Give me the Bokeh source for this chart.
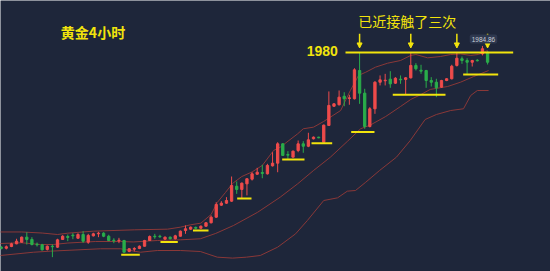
from bokeh.plotting import figure
from bokeh.models import ColumnDataSource, Range1d, Label, Arrow, NormalHead
from bokeh.embed import file_html
from bokeh.resources import INLINE

# ---------------- data ----------------
opens = [1834.1, 1833.2, 1834.5, 1836.5, 1837.7, 1841.5, 1839.8, 1836.2, 1835.8, 1832.3,
         1834.7, 1834.0, 1839.8, 1842.0, 1843.0, 1840.7, 1843.5, 1837.7, 1842.5, 1844.0,
         1844.5, 1842.2, 1839.2, 1838.8, 1839.0, 1830.8, 1832.5, 1833.0, 1834.7, 1839.0,
         1842.2, 1842.2, 1840.0, 1841.5, 1840.3, 1842.2, 1846.5, 1847.5, 1848.8, 1848.2,
         1849.7, 1852.3, 1856.5, 1865.5, 1867.0, 1868.5, 1879.7, 1877.3, 1881.5, 1885.0,
         1888.7, 1890.0, 1889.0, 1895.0, 1897.0, 1911.5, 1903.5, 1901.5, 1906.5, 1911.5,
         1909.7, 1915.3, 1916.5, 1912.7, 1925.3, 1939.7, 1940.8, 1947.2, 1945.5, 1945.3,
         1966.5, 1949.5, 1924.5, 1937.8, 1957.7, 1958.8, 1960.0, 1957.0, 1960.0, 1959.8,
         1961.0, 1970.3, 1966.7, 1966.5, 1959.0, 1957.7, 1954.0, 1959.0, 1960.3, 1970.3,
         1975.3, 1974.0, 1972.7, 1974.2, 1979.0, 1980.2]
highs = [1834.9, 1835.3, 1837.3, 1840.3, 1842.0, 1845.2, 1841.5, 1837.5, 1836.5, 1835.3,
         1836.0, 1840.3, 1843.0, 1843.5, 1844.5, 1844.5, 1846.0, 1844.0, 1844.8, 1845.5,
         1845.2, 1843.3, 1840.7, 1841.0, 1839.5, 1833.2, 1834.0, 1835.3, 1839.5, 1842.8,
         1844.0, 1843.3, 1842.0, 1842.0, 1843.3, 1846.5, 1850.3, 1849.5, 1849.5, 1850.3,
         1852.7, 1857.8, 1867.7, 1868.5, 1871.5, 1887.0, 1883.3, 1882.5, 1885.7, 1890.2,
         1893.5, 1895.8, 1896.5, 1905.2, 1912.7, 1912.0, 1906.0, 1906.5, 1914.0, 1913.5,
         1919.8, 1917.0, 1916.8, 1926.0, 1950.8, 1942.0, 1951.5, 1950.2, 1948.3, 1968.2,
         1980.2, 1952.8, 1939.0, 1958.5, 1962.8, 1964.0, 1966.0, 1961.5, 1962.8, 1961.5,
         1980.2, 1972.0, 1970.8, 1967.0, 1961.5, 1960.3, 1959.5, 1960.7, 1970.8, 1980.2,
         1977.0, 1975.7, 1974.5, 1975.0, 1984.9, 1981.0]
lows = [1832.3, 1832.3, 1834.0, 1836.2, 1837.5, 1836.0, 1835.3, 1834.5, 1831.5, 1831.5,
        1826.5, 1833.5, 1839.5, 1838.5, 1840.0, 1840.3, 1837.3, 1836.5, 1842.0, 1841.5,
        1841.5, 1838.5, 1837.0, 1837.0, 1830.0, 1830.2, 1830.8, 1832.5, 1834.5, 1838.8,
        1840.3, 1841.0, 1839.5, 1839.8, 1839.8, 1842.0, 1844.0, 1847.0, 1847.5, 1847.8,
        1849.5, 1851.8, 1856.0, 1865.0, 1866.5, 1868.0, 1874.0, 1870.7, 1872.8, 1884.0,
        1888.3, 1885.7, 1888.5, 1894.5, 1890.2, 1902.4, 1900.3, 1901.3, 1905.2, 1904.8,
        1909.0, 1914.8, 1915.7, 1912.3, 1924.9, 1939.3, 1940.3, 1939.7, 1940.8, 1944.8,
        1941.5, 1922.8, 1923.8, 1934.0, 1955.3, 1955.3, 1953.5, 1956.5, 1956.5, 1948.5,
        1960.5, 1966.5, 1964.0, 1953.5, 1954.5, 1946.5, 1953.5, 1958.5, 1959.8, 1969.5,
        1971.5, 1964.0, 1969.5, 1973.3, 1977.8, 1971.0]
closes = [1833.0, 1834.3, 1836.5, 1838.5, 1841.5, 1839.8, 1836.0, 1835.8, 1832.0, 1834.7,
          1834.3, 1839.5, 1842.2, 1841.3, 1842.5, 1843.5, 1838.5, 1842.8, 1844.0, 1844.5,
          1842.2, 1839.0, 1838.8, 1839.2, 1830.2, 1832.8, 1833.0, 1834.7, 1839.0, 1842.0,
          1841.8, 1841.8, 1841.5, 1840.3, 1842.5, 1846.0, 1847.8, 1849.0, 1848.2, 1849.7,
          1852.3, 1856.5, 1866.0, 1867.0, 1869.0, 1880.3, 1877.3, 1882.0, 1885.3, 1889.0,
          1890.2, 1889.3, 1895.3, 1897.0, 1911.5, 1902.8, 1903.0, 1906.0, 1911.5, 1909.7,
          1914.5, 1916.5, 1916.0, 1925.5, 1940.3, 1941.5, 1946.5, 1945.3, 1946.0, 1967.0,
          1949.5, 1924.5, 1937.8, 1957.7, 1959.5, 1959.2, 1956.5, 1960.7, 1959.5, 1961.0,
          1970.3, 1967.8, 1966.0, 1959.0, 1957.7, 1953.5, 1959.0, 1960.3, 1969.7, 1975.7,
          1974.0, 1972.7, 1974.0, 1973.8, 1982.8, 1972.7]

# Bollinger bands (sampled along the candle index)
upper_idx = [-0.2, 4, 8, 11, 13, 18, 26, 32.5, 35, 37, 39, 41, 42.2, 43.8, 45.2, 47, 49, 51,
             53.2, 54.5, 57.9, 59, 61, 63, 66.3, 68.2, 69.8, 71.2, 73.1, 75.5, 78, 80, 81,
             83.3, 85.8, 87.8, 89.7, 91.7, 93.2, 95]
upper_val = [1845.4, 1845.4, 1844.6, 1843.5, 1844.5, 1846.0, 1847.0, 1847.5, 1849.0, 1850.8,
             1852.0, 1858.5, 1867.5, 1875.0, 1881.8, 1887.0, 1890.4, 1895.3, 1906.5, 1909.0,
             1919.0, 1922.8, 1924.0, 1928.3, 1936.5, 1951.5, 1962.8, 1965.2, 1969.0, 1972.0,
             1974.0, 1977.8, 1978.5, 1976.0, 1977.0, 1978.5, 1978.9, 1977.8, 1978.5, 1981.5]
middle_idx = [-0.2, 4, 7.7, 10.2, 13, 18.4, 23.3, 25.8, 30.5, 35, 38.9, 41.9, 45.4, 50.1,
              54.5, 57.9, 61, 64.3, 67.6, 70.2, 72.1, 75.1, 78, 80, 81.9, 83.8, 87.2, 89.7,
              92.3, 95.2]
middle_val = [1836.75, 1837.3, 1836.0, 1836.0, 1837.1, 1838.25, 1838.25, 1837.9, 1839.0,
              1839.5, 1840.3, 1844.3, 1850.3, 1860.2, 1871.5, 1881.5, 1891.5, 1901.5, 1913.3,
              1922.8, 1925.6, 1932.0, 1939.5, 1944.8, 1948.3, 1952.3, 1954.5, 1957.7, 1962.0,
              1966.5]
lower_idx = [-0.2, 6.3, 9.6, 19.4, 23.3, 27.2, 30.5, 35, 38.9, 42.2, 45.2, 47.9, 50.6, 54,
             57.5, 59.8, 63, 65.7, 67.6, 69.2, 71.2, 73.9, 77.2, 79.9, 82.8, 85, 87.8, 90.3,
             91.7, 93.0, 95.2]
lower_val = [1827.75, 1830.2, 1831.0, 1832.8, 1832.8, 1830.2, 1831.5, 1831.5, 1830.75, 1826.5,
             1825.8, 1826.5, 1827.75, 1834.0, 1844.0, 1854.0, 1869.0, 1871.0, 1876.0, 1876.5,
             1882.7, 1891.5, 1901.5, 1914.0, 1929.75, 1933.5, 1936.5, 1937.8, 1947.75, 1951.5,
             1951.5]

# annotations
resistance_level = 1980
resistance_start, resistance_end = 67.25, 100.0
touch_idx = [70, 80, 89, 95]
support_start = [23.44, 31.11, 37.46, 46.09, 54.88, 60.61, 68.36, 76.48, 90.23]
support_end = [27.07, 34.49, 40.49, 48.89, 59.24, 64.65, 72.91, 86.78, 97.07]
support_price = [1828.3, 1837.8, 1846.5, 1870.5, 1899.75, 1912.0, 1920.3, 1948.3, 1963.5]
last_high_idx = 94
last_high_text = "1984.86"
title_text = "黄金4小时"
note_text = "已近接触了三次"

# ---------------- styles ----------------
BG = "#1e263a"
UP = "#ef4b4b"
DOWN = "#2aad4a"
BAND = "#8a3838"
YEL = "#f2e40c"

idx = list(range(len(opens)))
src = ColumnDataSource(dict(
    x=idx, high=highs, low=lows,
    top=[max(o, c) for o, c in zip(opens, closes)],
    bottom=[min(o, c) for o, c in zip(opens, closes)],
    color=[UP if c >= o else DOWN for o, c in zip(opens, closes)],
))

p = figure(width=550, height=271, output_backend="svg", toolbar_location=None,
           x_range=Range1d(-0.137, 107.29), y_range=Range1d(1815.75, 2019.0),
           x_axis_location=None, y_axis_location=None, min_border=0,
           background_fill_color=BG, border_fill_color=BG, outline_line_color=None)
p.grid.visible = False

for bx, by in ((upper_idx, upper_val), (middle_idx, middle_val), (lower_idx, lower_val)):
    p.line(bx, by, line_color=BAND, line_width=1)

p.segment(x0="x", y0="high", x1="x", y1="low", line_color="color", line_width=1, source=src)
p.vbar(x="x", width=0.45, top="top", bottom="bottom", fill_color="color",
       line_color="color", line_width=1, source=src)

# support segments
p.segment(x0=support_start, y0=support_price, x1=support_end, y1=support_price,
          line_color=YEL, line_width=2)
# resistance line
p.segment(x0=[resistance_start], y0=[resistance_level], x1=[resistance_end],
          y1=[resistance_level], line_color=YEL, line_width=2)

for t in touch_idx:
    p.add_layout(Arrow(end=NormalHead(size=5, fill_color=YEL, line_color=YEL, line_width=1),
                       x_start=t, y_start=resistance_level + 14,
                       x_end=t, y_end=resistance_level + 3.4,
                       line_color=YEL, line_width=1.5))

p.add_layout(Label(x=65.74, y=resistance_level + 1.5, text=str(resistance_level),
                   text_align="right", text_baseline="middle", text_color=YEL,
                   text_font="Liberation Sans", text_font_size="14px", text_font_style="bold"))

p.add_layout(Label(x=17.93, y=1995.2, text=title_text, text_align="center",
                   text_baseline="middle", text_color=YEL, text_font="Noto Sans CJK SC",
                   text_font_size="14px", text_font_style="bold"))
p.add_layout(Label(x=79.3, y=2003.8, text=note_text, text_align="center",
                   text_baseline="middle", text_color=YEL, text_font="Noto Sans CJK SC",
                   text_font_size="14px"))

p.add_layout(Label(x=last_high_idx + 0.2, y=float(last_high_text) + 5.2, text=last_high_text,
                   text_align="center", text_baseline="middle", text_color="#c9cdd6",
                   text_font="Liberation Sans", text_font_size="6.5px",
                   background_fill_color="#2e384f", padding=2, border_radius=2))

open("out.html", "w").write(file_html(p, INLINE))
